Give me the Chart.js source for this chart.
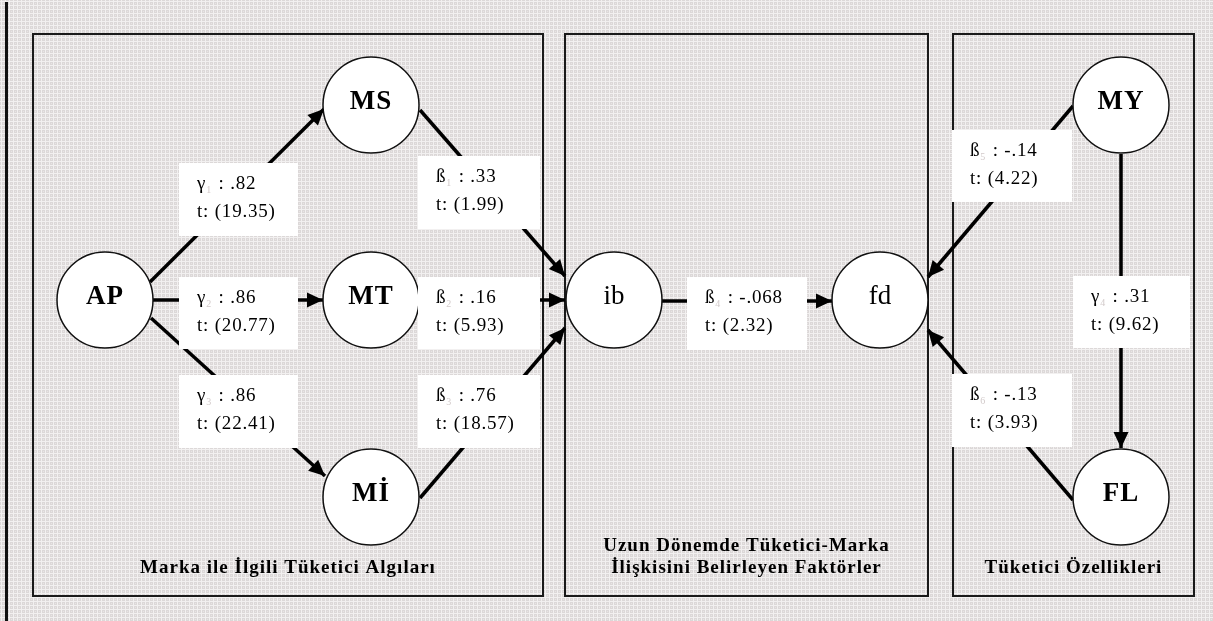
<!DOCTYPE html>
<html>
<head>
<meta charset="utf-8">
<script src="https://cdn.jsdelivr.net/npm/chart.js@4.4.1/dist/chart.umd.min.js"></script>
<style>
  html, body { margin: 0; padding: 0; background: #e3dfdf; }
  #wrap { width: 1213px; height: 621px; position: relative; }
</style>
</head>
<body>
<div id="wrap"><canvas id="chart"></canvas></div>
<script>
"use strict"

// latent variables of the model
const nodeNames = ['AP', 'MS', 'MT', 'Mİ', 'ib', 'fd', 'MY', 'FL']
const nodeX = [105, 371, 371, 371, 614, 880, 1121, 1121]
const nodeY = [300, 105, 300, 497, 300, 300, 105, 497]

// structural paths: symbol, index, estimate, t value
const pathFrom = ['AP', 'AP', 'AP', 'MS', 'MT', 'Mİ', 'ib', 'MY', 'FL', 'MY']
const pathTo = ['MS', 'MT', 'Mİ', 'ib', 'ib', 'ib', 'fd', 'fd', 'fd', 'FL']
const pathSymbols = ['γ', 'γ', 'γ', 'ß', 'ß', 'ß', 'ß', 'ß', 'ß', 'γ']
const pathIndex = ['1', '2', '3', '1', '2', '3', '4', '5', '6', '4']
const pathEstimates = [0.82, 0.86, 0.86, 0.33, 0.16, 0.76, -0.068, -0.14, -0.13, 0.31]
const pathT = [19.35, 20.77, 22.41, 1.99, 5.93, 18.57, 2.32, 4.22, 3.93, 9.62]

// group panels
const panelTitles = [
	['Marka ile İlgili Tüketici Algıları'],
	['Uzun Dönemde Tüketici-Marka', 'İlişkisini Belirleyen Faktörler'],
	['Tüketici Özellikleri']
]

// ---- layout (chart units = pixels) ----
const panelRects = [[33, 34, 510, 562], [565, 34, 363, 562], [953, 34, 241, 562]]
// where each arrow leaves its source and touches its target
const pathStart = [[150, 282], [153, 300], [151, 318], [420, 110], [419, 300], [420, 498], [662, 301], [1073, 106], [1073, 500], [1121, 154]]
const pathEnd = [[324, 109], [323, 300], [325, 476], [565, 276], [565, 300], [565, 328], [832, 301], [928, 277], [928, 330], [1121, 448]]
const boxRects = [
	[179, 163, 119, 73], [179, 277, 119, 72], [179, 375, 119, 73],
	[418, 156, 122, 73], [418, 277, 122, 72], [418, 375, 122, 73],
	[687, 277, 120, 73], [952, 130, 120, 72], [952, 374, 120, 73],
	[1073, 276, 117, 72]
]

const NODE_R = 48
const SERIF = '"Liberation Serif", "DejaVu Serif", serif'

function fmtEst(v) {
	return (v < 0 ? '-' : '') + Math.abs(v).toString().replace(/^0/, '')
}

function makePattern(ctx) {
	const tile = document.createElement('canvas')
	tile.width = 4
	tile.height = 4
	const t = tile.getContext('2d')
	t.fillStyle = '#dcd8d8'
	t.fillRect(0, 0, 4, 4)
	t.fillStyle = '#f2f0f0'
	t.fillRect(0, 1, 4, 1)
	t.fillRect(1, 0, 1, 4)
	t.fillStyle = '#e8e5e5'
	t.fillRect(3, 3, 1, 1)
	return ctx.createPattern(tile, 'repeat')
}

const diagramPlugin = {
	id: 'diagram',
	beforeDraw: function (chart) {
		const ctx = chart.ctx
		const sx = chart.scales.x, sy = chart.scales.y
		ctx.save()
		ctx.fillStyle = makePattern(ctx)
		ctx.fillRect(0, 0, chart.width, chart.height)
		// left edge rule
		ctx.fillStyle = '#111'
		ctx.fillRect(5, 2, 3, chart.height - 2)
		// panels
		ctx.strokeStyle = '#1a1a1a'
		ctx.lineWidth = 2
		panelRects.forEach(function (r, i) {
			const x0 = sx.getPixelForValue(r[0]), y0 = sy.getPixelForValue(r[1])
			const x1 = sx.getPixelForValue(r[0] + r[2]), y1 = sy.getPixelForValue(r[1] + r[3])
			ctx.strokeRect(x0, y0, x1 - x0, y1 - y0)
			ctx.fillStyle = '#000'
			ctx.font = 'bold 19px ' + SERIF
			ctx.textAlign = 'center'
			ctx.textBaseline = 'middle'
			ctx.letterSpacing = '1px'
			const lines = panelTitles[i]
			const lastY = y1 - 28
			lines.forEach(function (txt, k) {
				ctx.fillText(txt, (x0 + x1) / 2, lastY - (lines.length - 1 - k) * 22)
			})
		})
		ctx.restore()
	},
	afterDatasetsDraw: function (chart) {
		const ctx = chart.ctx
		const sx = chart.scales.x, sy = chart.scales.y
		ctx.save()
		// arrow heads
		ctx.fillStyle = '#000'
		pathEnd.forEach(function (e, i) {
			const s = pathStart[i]
			const ex = sx.getPixelForValue(e[0]), ey = sy.getPixelForValue(e[1])
			const bx = sx.getPixelForValue(s[0]), by = sy.getPixelForValue(s[1])
			const a = Math.atan2(ey - by, ex - bx)
			const len = 16, half = 7.5
			ctx.beginPath()
			ctx.moveTo(ex, ey)
			ctx.lineTo(ex - len * Math.cos(a) + half * Math.sin(a), ey - len * Math.sin(a) - half * Math.cos(a))
			ctx.lineTo(ex - len * Math.cos(a) - half * Math.sin(a), ey - len * Math.sin(a) + half * Math.cos(a))
			ctx.closePath()
			ctx.fill()
		})
		// estimate boxes
		boxRects.forEach(function (r, i) {
			const x0 = sx.getPixelForValue(r[0]), y0 = sy.getPixelForValue(r[1])
			const x1 = sx.getPixelForValue(r[0] + r[2]), y1 = sy.getPixelForValue(r[1] + r[3])
			ctx.fillStyle = '#fff'
			ctx.fillRect(x0, y0, x1 - x0, y1 - y0)
			const tx = x0 + 18
			ctx.textAlign = 'left'
			ctx.textBaseline = 'alphabetic'
			ctx.letterSpacing = '0.8px'
			ctx.font = '19px ' + SERIF
			ctx.fillStyle = '#000'
			ctx.fillText(pathSymbols[i], tx, y0 + 26)
			let w = ctx.measureText(pathSymbols[i]).width
			ctx.font = '10px ' + SERIF
			ctx.fillStyle = '#d2caca'
			ctx.fillText(pathIndex[i], tx + w, y0 + 30)
			w += ctx.measureText(pathIndex[i]).width + 1
			ctx.font = '19px ' + SERIF
			ctx.fillStyle = '#000'
			ctx.fillText(' : ' + fmtEst(pathEstimates[i]), tx + w, y0 + 26)
			ctx.fillText('t: (' + pathT[i].toFixed(2) + ')', tx, y0 + 54)
		})
		// node labels
		nodeNames.forEach(function (n, i) {
			const px = sx.getPixelForValue(nodeX[i]), py = sy.getPixelForValue(nodeY[i])
			const isUpper = n === n.toUpperCase()
			ctx.font = (isUpper ? 'bold ' : '') + '27px ' + SERIF
			ctx.letterSpacing = isUpper ? '1px' : '0px'
			ctx.fillStyle = '#000'
			ctx.textAlign = 'center'
			ctx.textBaseline = 'middle'
			ctx.fillText(n, px, py - 3)
		})
		ctx.restore()
	}
}

const edgeDatasets = pathStart.map(function (s, i) {
	return {
		type: 'line',
		label: pathSymbols[i] + pathIndex[i],
		data: [{ x: s[0], y: s[1] }, { x: pathEnd[i][0], y: pathEnd[i][1] }],
		borderColor: '#000',
		borderWidth: 3.5,
		pointRadius: 0,
		fill: false,
		order: 2
	}
})

const nodeDataset = {
	type: 'scatter',
	label: 'nodes',
	data: nodeNames.map(function (n, i) { return { x: nodeX[i], y: nodeY[i] } }),
	pointRadius: NODE_R,
	pointBackgroundColor: '#fff',
	pointBorderColor: '#111',
	pointBorderWidth: 1.5,
	order: 0
}

new Chart(document.getElementById('chart'), {
	type: 'scatter',
	data: { datasets: edgeDatasets.concat([nodeDataset]) },
	options: {
		responsive: true,
		maintainAspectRatio: false,
		animation: false,
		events: [],
		layout: { padding: 0, autoPadding: false },
		plugins: { legend: { display: false }, tooltip: { enabled: false } },
		scales: {
			x: { type: 'linear', min: 0, max: 1213, display: false },
			y: { type: 'linear', min: 0, max: 621, reverse: true, display: false }
		}
	},
	plugins: [diagramPlugin]
})
</script>
</body>
</html>
